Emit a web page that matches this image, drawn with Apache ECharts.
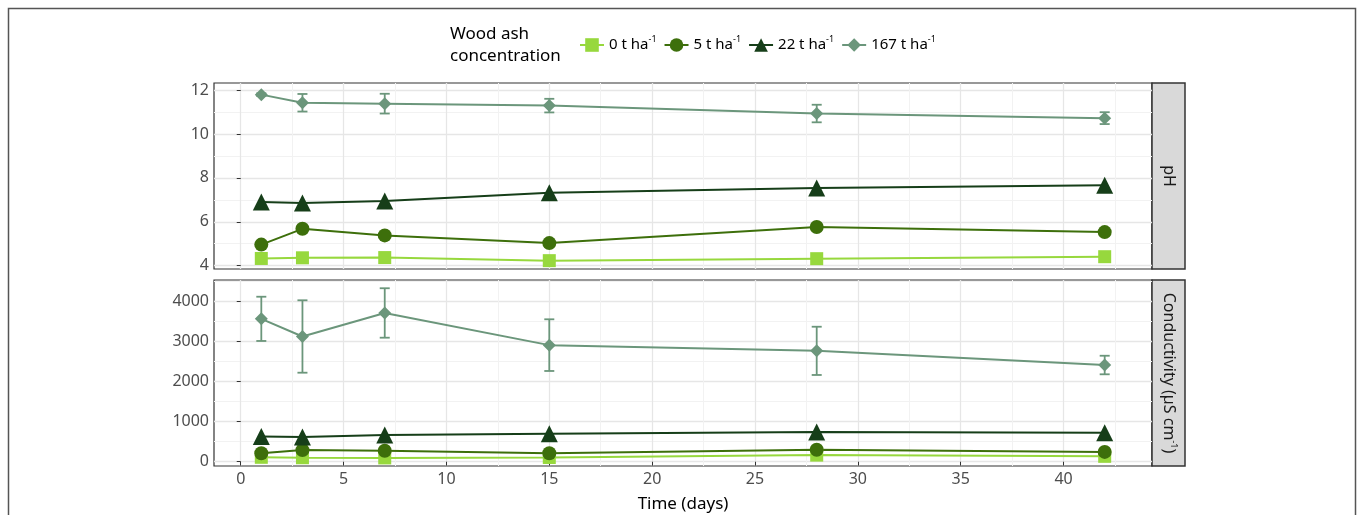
<!DOCTYPE html>
<html><head><meta charset="utf-8">
<script src="https://cdn.jsdelivr.net/npm/echarts@6/dist/echarts.min.js"></script>
<style>html,body{margin:0;padding:0;background:#fff}#c{width:1357px;height:515px}</style>
</head><body><div id="c"></div>
<script>
const days = [1, 3, 7, 15, 28, 42];
const seriesNames = ['0', '5', '22', '167'];
const ph0 = [4.33, 4.36, 4.37, 4.23, 4.32, 4.41];
const ph5 = [4.96, 5.68, 5.38, 5.03, 5.76, 5.53];
const ph22 = [6.90, 6.85, 6.95, 7.32, 7.54, 7.66];
const ph167 = [11.79, 11.42, 11.38, 11.29, 10.93, 10.72];
const ph167Err = [0.06, 0.40, 0.45, 0.31, 0.40, 0.27];
const cond0 = [110, 100, 95, 105, 165, 135];
const cond5 = [210, 290, 275, 210, 300, 245];
const cond22 = [630, 615, 668, 700, 740, 725];
const cond167 = [3571, 3130, 3718, 2914, 2771, 2417];
const cond167Err = [553, 905, 618, 646, 603, 232];
const xMajor = [0, 5, 10, 15, 20, 25, 30, 35, 40];
const xMinor = [2.5, 7.5, 12.5, 17.5, 22.5, 27.5, 32.5, 37.5, 42.5];
const phMajor = [4, 6, 8, 10, 12];
const phMinor = [5, 7, 9, 11];
const condMajor = [0, 1000, 2000, 3000, 4000];
const condMinor = [500, 1500, 2500, 3500, 4500];

const colors = {'0': '#97d83d', '5': '#3d6f0b', '22': '#163e19', '167': '#6b967b'};
const symbols = {'0': 'rect', '5': 'circle', '22': 'triangle', '167': 'diamond'};
const symSize = {'0': 13, '5': 14, '22': 17, '167': 13};
const FONT = 'Noto Sans';

const pair = arr => days.map((d, i) => [d, arr[i]]);
const errData = (m, e) => days.map((d, i) => [d, m[i] - e[i], m[i] + e[i]]);

function mkX(gi, show) {
  return {
    type: 'value', gridIndex: gi, min: -1.3, max: 44.3,
    axisLine: {show: false},
    axisTick: {show: show, customValues: xMajor, length: 4, lineStyle: {color: '#333', width: 1}},
    axisLabel: {show: show, customValues: xMajor, color: '#4d4d4d', fontSize: 16, fontFamily: FONT, margin: 5},
    splitLine: {show: true, lineStyle: {color: '#e6e6e6', width: 1.3}},
    name: show ? 'Time (days)' : '', nameLocation: 'middle', nameGap: 30,
    nameTextStyle: {color: '#000', fontSize: 17, fontFamily: FONT}
  };
}
function mkXMinor(gi) {
  return {
    type: 'value', gridIndex: gi, min: -1.3, max: 44.3, position: 'top',
    axisLine: {show: false},
    axisTick: {show: false, customValues: xMinor},
    axisLabel: {show: false, customValues: xMinor},
    splitLine: {show: true, lineStyle: {color: '#f2f2f2', width: 1}}
  };
}
function mkY(gi, min, max, major) {
  return {
    type: 'value', gridIndex: gi, min: min, max: max,
    axisLine: {show: false},
    axisTick: {show: true, customValues: major, length: 4, lineStyle: {color: '#333', width: 1}},
    axisLabel: {customValues: major, color: '#4d4d4d', fontSize: 16, fontFamily: FONT, margin: 5, formatter: v => String(v)},
    splitLine: {show: true, lineStyle: {color: '#e6e6e6', width: 1.3}}
  };
}
function mkYMinor(gi, min, max, minor) {
  return {
    type: 'value', gridIndex: gi, min: min, max: max, position: 'right',
    axisLine: {show: false},
    axisTick: {show: false, customValues: minor},
    axisLabel: {show: false, customValues: minor},
    splitLine: {show: true, lineStyle: {color: '#f2f2f2', width: 1}}
  };
}

function lineSeries(name, arr, gi) {
  return {
    type: 'line', name: name, xAxisIndex: gi * 2, yAxisIndex: gi * 2, data: pair(arr),
    symbol: symbols[name], symbolSize: symSize[name], showSymbol: true,
    lineStyle: {color: colors[name], width: 2},
    itemStyle: {color: colors[name]}, z: 3, silent: true
  };
}
function errSeries(name, m, e, gi) {
  return {
    type: 'custom', name: 'err' + name, xAxisIndex: gi * 2, yAxisIndex: gi * 2,
    data: errData(m, e), encode: {x: 0, y: [1, 2]}, z: 2, silent: true,
    renderItem: function (params, api) {
      const x = api.value(0);
      const lo = api.coord([x, api.value(1)]);
      const hi = api.coord([x, api.value(2)]);
      const w = 5;
      const st = {stroke: colors[name], lineWidth: 1.8};
      return {type: 'group', children: [
        {type: 'line', shape: {x1: lo[0], y1: lo[1], x2: hi[0], y2: hi[1]}, style: st},
        {type: 'line', shape: {x1: lo[0] - w, y1: lo[1], x2: lo[0] + w, y2: lo[1]}, style: st},
        {type: 'line', shape: {x1: hi[0] - w, y1: hi[1], x2: hi[0] + w, y2: hi[1]}, style: st}
      ]};
    }
  };
}

const supRich = {sup: {fontSize: 9, verticalAlign: 'top', lineHeight: 14, fontFamily: FONT, color: '#000'}};

const option = {
  animation: false,
  grid: [
    {left: 214, right: 205, top: 83, height: 186, show: true, borderColor: '#333', borderWidth: 1.2, backgroundColor: 'transparent', containLabel: false},
    {left: 214, right: 205, top: 280, height: 186, show: true, borderColor: '#333', borderWidth: 1.2, backgroundColor: 'transparent', containLabel: false}
  ],
  xAxis: [mkX(0, false), mkXMinor(0), mkX(1, true), mkXMinor(1)],
  yAxis: [mkY(0, 3.85, 12.32, phMajor), mkYMinor(0, 3.85, 12.32, phMinor),
          mkY(1, -107, 4542, condMajor), mkYMinor(1, -107, 4542, condMinor)],
  legend: {
    data: seriesNames, left: 574, top: 30, itemWidth: 24, itemHeight: 17, itemGap: 7,
    textStyle: {fontSize: 15, fontFamily: FONT, color: '#000', lineHeight: 20, rich: supRich},
    formatter: n => n + ' t ha{sup|-1}', selectedMode: false
  },
  graphic: [
    {type: 'rect', shape: {x: 8.5, y: 8.5, width: 1347, height: 520}, style: {fill: 'none', stroke: '#555', lineWidth: 1.5}, silent: true},
    {type: 'text', x: 450, y: 23, style: {text: 'Wood ash\nconcentration', fontSize: 17, fontFamily: FONT, fill: '#000', lineHeight: 22}},
    {type: 'rect', shape: {x: 1152, y: 83, width: 33, height: 186}, style: {fill: '#d9d9d9', stroke: '#333', lineWidth: 1.5}},
    {type: 'rect', shape: {x: 1152, y: 280, width: 33, height: 186}, style: {fill: '#d9d9d9', stroke: '#333', lineWidth: 1.5}},
    {type: 'text', x: 1168.5, y: 176, rotation: -Math.PI / 2,
     style: {text: 'pH', fontSize: 16, fontFamily: FONT, fill: '#1a1a1a', align: 'center', verticalAlign: 'middle'}},
    {type: 'text', x: 1168.5, y: 373, rotation: -Math.PI / 2,
     style: {text: 'Conductivity (µS cm{sup|-1})', fontSize: 16, fontFamily: FONT, fill: '#1a1a1a', align: 'center', verticalAlign: 'middle', lineHeight: 20,
       rich: {sup: {fontSize: 9, verticalAlign: 'top', lineHeight: 14, fontFamily: FONT, fill: '#1a1a1a'}}}}
  ],
  series: [
    errSeries('167', ph167, ph167Err, 0),
    errSeries('167', cond167, cond167Err, 1),
    lineSeries('0', ph0, 0), lineSeries('5', ph5, 0), lineSeries('22', ph22, 0), lineSeries('167', ph167, 0),
    lineSeries('0', cond0, 1), lineSeries('5', cond5, 1), lineSeries('22', cond22, 1), lineSeries('167', cond167, 1)
  ]
};
const chart = echarts.init(document.getElementById('c'), null, {renderer: 'canvas'});
chart.setOption(option);
</script></body></html>
